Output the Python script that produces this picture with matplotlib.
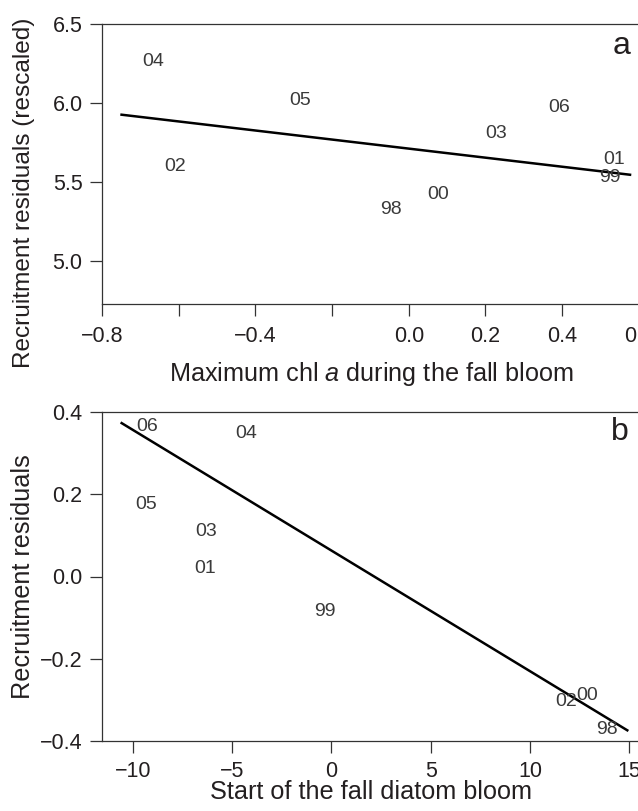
import matplotlib
matplotlib.use("Agg")
import matplotlib.pyplot as plt

plt.rcParams['font.family'] = ['Liberation Sans', 'DejaVu Sans']
plt.rcParams['mathtext.fontset'] = 'custom'
plt.rcParams['mathtext.rm'] = 'Liberation Sans'
plt.rcParams['mathtext.it'] = 'Liberation Sans:italic'

# panel a: maximum chl a vs rescaled recruitment residuals
years_a = ['04', '05', '02', '06', '03', '01', '99', '00', '98']
chl_a = [-0.666, -0.284, -0.610, 0.393, 0.229, 0.535, 0.524, 0.076, -0.047]
resid_a = [6.261, 6.019, 5.601, 5.973, 5.809, 5.642, 5.531, 5.418, 5.323]
fit_a_x = [-0.749, 0.577]
fit_a_y = [5.926, 5.546]

# panel b: start of fall diatom bloom vs recruitment residuals
years_b = ['06', '04', '05', '03', '01', '99', '02', '00', '98']
start_b = [-9.31, -4.32, -9.35, -6.32, -6.37, -0.33, 11.84, 12.89, 13.86]
resid_b = [0.364, 0.347, 0.174, 0.109, 0.020, -0.084, -0.304, -0.289, -0.371]
fit_b_x = [-10.57, 14.9]
fit_b_y = [0.373, -0.374]

xticks_a = [-0.8, -0.6, -0.4, -0.2, 0.0, 0.2, 0.4, 0.6]
xticklabels_a = ['\u22120.8', '', '\u22120.4', '', '0.0', '0.2', '0.4', '0.6']
yticks_a = [5.0, 5.5, 6.0, 6.5]
xticks_b = [-10, -5, 0, 5, 10, 15]
yticks_b = [-0.4, -0.2, 0.0, 0.2, 0.4]

ink = '#231f20'
txt = '#3a3a3a'

fig = plt.figure(figsize=(6.38, 8.11), dpi=100)
W, H = 638, 811
def box(l, t, r, b):
    return [l / W, 1 - b / H, (r - l) / W, (b - t) / H]

ax1 = fig.add_axes(box(102, 24, 640, 304))
ax2 = fig.add_axes(box(102, 412, 640, 741))

def style(ax, xpad):
    for s in ax.spines.values():
        s.set_color('#333333')
        s.set_linewidth(0.9)
    ax.spines['right'].set_visible(False)
    ax.tick_params(direction='out', length=8.5, width=0.9, color='#333333',
                   labelsize=15.5, labelcolor=ink, pad=5.5)
    ax.tick_params(axis='x', pad=xpad)

# panel a
ax1.plot(fit_a_x, fit_a_y, color='black', lw=1.8)
for lab, x, y in zip(years_a, chl_a, resid_a):
    ax1.text(x, y, lab, ha='center', va='center', fontsize=14, color=txt)
ax1.set_xlim(-0.8, 0.603)
ax1.set_ylim(4.728, 6.5)
ax1.set_xticks(xticks_a)
ax1.set_xticklabels(xticklabels_a)
ax1.set_yticks(yticks_a)
ax1.set_yticklabels([f'{v:.1f}' for v in yticks_a])
style(ax1, 7)
ax1.set_xlabel('Maximum chl $\\mathit{a}$ during the fall bloom', fontsize=18.2, color=ink, labelpad=10)
ax1.set_ylabel('Recruitment residuals (rescaled)', fontsize=17.6, color=ink)
ax1.yaxis.set_label_coords(-0.1245, 0.398)
ax1.text(0.965, 0.921, 'a', transform=ax1.transAxes, ha='center', va='center',
         fontsize=23, color=ink)

# panel b
ax2.plot(fit_b_x, fit_b_y, color='black', lw=1.8)
for lab, x, y in zip(years_b, start_b, resid_b):
    ax2.text(x, y, lab, ha='center', va='center', fontsize=14, color=txt)
ax2.set_xlim(-11.56, 15.54)
ax2.set_ylim(-0.4, 0.4)
ax2.set_xticks(xticks_b)
ax2.set_xticklabels([str(v).replace('-', '\u2212') for v in xticks_b])
ax2.set_yticks(yticks_b)
ax2.set_yticklabels([f'{v:.1f}'.replace('-', '\u2212') for v in yticks_b])
style(ax2, 6)
ax2.set_xlabel('Start of the fall diatom bloom', fontsize=18.2, color=ink, labelpad=-1.5)
ax2.set_ylabel('Recruitment residuals', fontsize=18.2, color=ink)
ax2.yaxis.set_label_coords(-0.1245, 0.5)
ax2.text(0.963, 0.939, 'b', transform=ax2.transAxes, ha='center', va='center',
         fontsize=23, color=ink)

fig.savefig('out.png', dpi=100)
